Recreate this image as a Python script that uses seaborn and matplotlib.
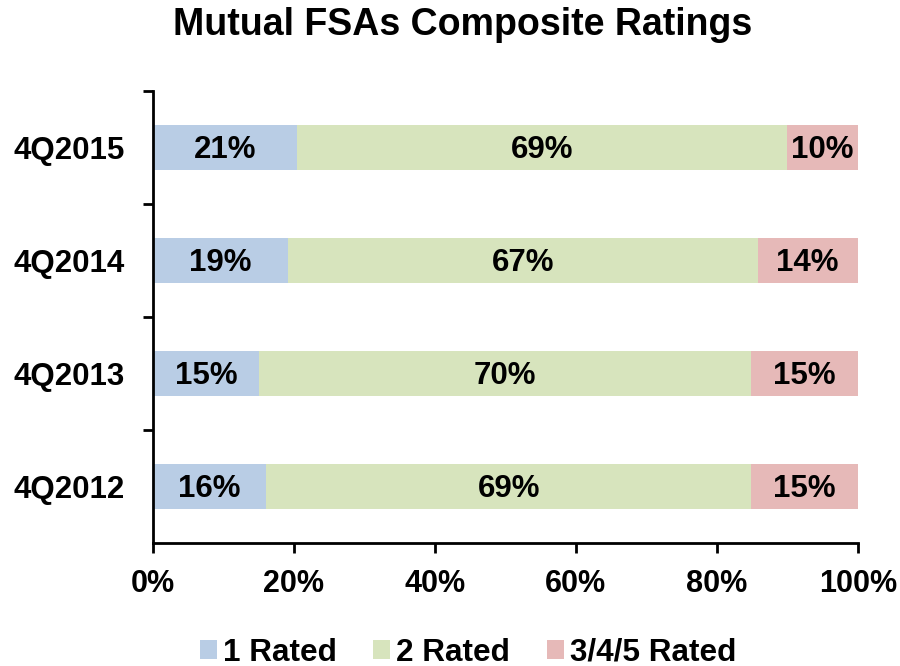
import numpy as np
import pandas as pd
import seaborn as sns
import matplotlib
matplotlib.use("Agg")
from matplotlib import pyplot as plt
from matplotlib.patches import Patch
from matplotlib.ticker import FixedLocator, PercentFormatter

# values (percent of mutual FSAs)
quarters = ["4Q2015", "4Q2014", "4Q2013", "4Q2012"]
rated_1 = [20.5, 19.2, 15.1, 16.1]
rated_2 = [69.4, 66.6, 69.8, 68.8]
rated_345 = [10.1, 14.2, 15.1, 15.1]
labels_1 = ["21%", "19%", "15%", "16%"]
labels_2 = ["69%", "67%", "70%", "69%"]
labels_345 = ["10%", "14%", "15%", "15%"]
series_names = ["1 Rated", "2 Rated", "3/4/5 Rated"]
colors = ["#B9CDE5", "#D7E4BD", "#E6B9B8"]

sns.set_theme(style="white")
plt.rcParams["font.family"] = ["Liberation Sans", "DejaVu Sans"]
plt.rcParams["font.weight"] = "bold"
plt.rcParams["text.color"] = "black"
plt.rcParams["xtick.color"] = "black"
plt.rcParams["ytick.color"] = "black"

df = pd.DataFrame({
    "quarter": quarters,
    "r1": rated_1,
    "r2": rated_2,
    "r345": rated_345,
})
df["c1"] = df["r1"]
df["c2"] = df["r1"] + df["r2"]
df["c3"] = df["c2"] + df["r345"]

fig = plt.figure(figsize=(9, 6.66), dpi=100)
ax = fig.add_axes([0.170, 0.185, 0.783, 0.678])

# stacked look: draw cumulative totals from widest to narrowest
for col, c in zip(["c3", "c2", "c1"], colors[::-1]):
    sns.barplot(data=df, x=col, y="quarter", order=quarters, orient="h",
                color=c, saturation=1, width=0.4, linewidth=0, ax=ax)

# segment labels
for i, q in enumerate(quarters):
    row = df.iloc[i]
    starts = [0, row["c1"], row["c2"]]
    widths = [row["r1"], row["r2"], row["r345"]]
    texts = [labels_1[i], labels_2[i], labels_345[i]]
    for s, w, t in zip(starts, widths, texts):
        ax.text(s + w / 2, i + 0.02, t, ha="center", va="center",
                fontsize=22.5, fontweight="bold", color="black")

ax.set_xlim(0, 100)
ax.set_ylim(3.5, -0.5)
ax.xaxis.set_major_locator(FixedLocator([0, 20, 40, 60, 80, 100]))
ax.xaxis.set_major_formatter(PercentFormatter(decimals=0))
ax.set_xlabel("")
ax.set_ylabel("")

for side in ["top", "right"]:
    ax.spines[side].set_visible(False)
for side in ["left", "bottom"]:
    ax.spines[side].set_color("black")
    ax.spines[side].set_linewidth(2)

ax.tick_params(axis="x", which="major", direction="out", length=7, width=2,
               color="black", labelsize=22, pad=12, bottom=True,
               labelcolor="black")
ax.tick_params(axis="y", which="major", length=0, labelsize=22.5, pad=20,
               labelcolor="black")
ax.yaxis.set_minor_locator(FixedLocator([-0.5, 0.5, 1.5, 2.5]))
ax.tick_params(axis="y", which="minor", direction="out", length=7, width=2,
               color="black", left=True)
for lab in ax.get_xticklabels() + ax.get_yticklabels():
    lab.set_fontweight("bold")

fig.suptitle("Mutual FSAs Composite Ratings", fontsize=27, fontweight="bold",
             color="black", x=0.514, y=0.99)

handles = [Patch(facecolor=c, edgecolor="none") for c in colors]
fig.legend(handles, series_names, loc="lower center", ncol=3, frameon=False,
           bbox_to_anchor=(0.52, -0.045), handlelength=0.54,
           handleheight=0.54, handletextpad=0.2, columnspacing=1.15,
           labelcolor="black", prop={"weight": "bold", "size": 22.7})

fig.savefig("out.png", dpi=100)
